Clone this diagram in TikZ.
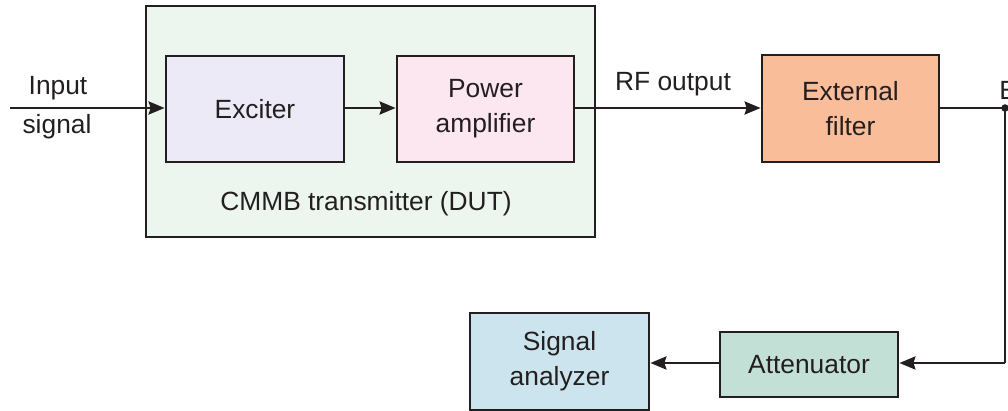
\documentclass[tikz,border=0pt]{standalone}
\usepackage{fontspec}
\setmainfont{Liberation Sans}
\usetikzlibrary{arrows.meta}
\definecolor{inkgray}{HTML}{231F20}
\definecolor{dutgreen}{HTML}{EDF6EE}
\definecolor{excblue}{HTML}{ECEAF6}
\definecolor{papink}{HTML}{FCE6EF}
\definecolor{filtorange}{HTML}{F9BD99}
\definecolor{attgreen}{HTML}{C3E0D6}
\definecolor{sablue}{HTML}{CCE4EE}
\begin{document}
\begin{tikzpicture}[x=0.02cm, y=-0.02cm, color=inkgray,
	block/.style={shape=rectangle, draw=inkgray, line width=1.6pt, align=center, text=inkgray, font=\fontsize{15}{20}\selectfont},
	lbl/.style={text=inkgray, align=center, font=\fontsize{15}{20}\selectfont},
	wire/.style={draw=inkgray, line width=1.5pt, -{Stealth[length=0.32cm, width=0.26cm, inset=0.04cm]}}]
	\useasboundingbox (0, 0) rectangle (1008, 411);
	% Blocks:
	\node[block, fill=dutgreen, minimum width=8.98cm, minimum height=4.62cm] (dut) at (370.5, 121.5){};
	\node[lbl] (dutname) at (366, 204){CMMB transmitter (DUT)};
	\node[block, fill=excblue, minimum width=3.56cm, minimum height=2.12cm] (exc) at (255, 109){Exciter};
	\node[block, fill=papink, minimum width=3.54cm, minimum height=2.12cm] (pa) at (485.5, 109){Power\\amplifier};
	\node[block, fill=filtorange, minimum width=3.54cm, minimum height=2.14cm] (filt) at (850.5, 108.5){External\\filter};
	\node[block, fill=attgreen, minimum width=3.56cm, minimum height=1.30cm] (att) at (809, 364.5){Attenuator};
	\node[block, fill=sablue, minimum width=3.58cm, minimum height=1.94cm] (sa) at (559.5, 361.5){Signal\\analyzer};
	% Free ends and labels:
	\coordinate (insrc) at (10, 108);
	\coordinate (tap) at (1005, 108);
	\coordinate (bend) at (1005, 363);
	\node[lbl] (intop) at (58, 88){Input};
	\node[lbl] (inbot) at (57, 127){signal};
	\node[lbl] (rflbl) at (673, 84){RF output};
	\node[lbl, anchor=base west, inner sep=0pt] (tapname) at (999, 100){E};
	% Wires:
	\draw[wire] (insrc) -- (exc.west |- insrc);
	\draw[wire] (exc.east |- insrc) -- (pa.west |- insrc);
	\draw[wire] (pa.east |- insrc) -- (filt.west |- insrc);
	\draw[line width=1.5pt] (filt.east |- tap) -- (tap) -- (bend);
	\draw[wire] (bend) -- (att.east |- bend);
	\draw[wire] (att.west |- bend) -- (sa.east |- bend);
	\fill (tap) circle (0.075cm);
\end{tikzpicture}
\end{document}
